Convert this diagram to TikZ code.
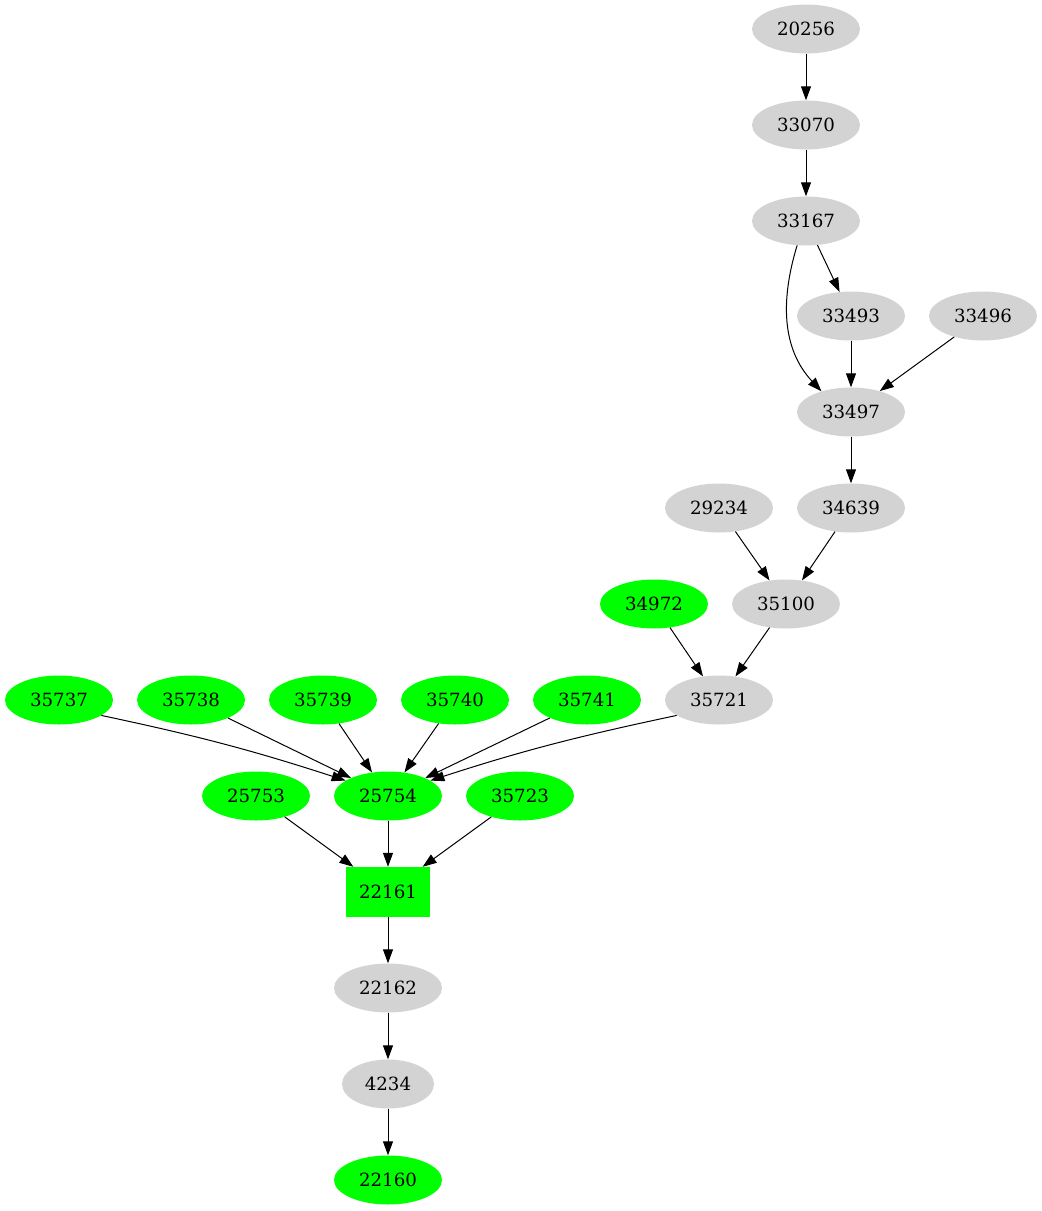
\documentclass[tikz,border=0pt]{standalone}
\usepackage{fontspec}
\setmainfont{DejaVu Serif}
\usetikzlibrary{shapes.geometric,arrows.meta}
\definecolor{gv}{HTML}{D3D3D3}
\definecolor{gn}{HTML}{00FF00}
\begin{document}
\begin{tikzpicture}[x=1pt,y=-1pt,
  base/.style={ellipse,minimum width=108pt,minimum height=49pt,inner sep=0pt,font=\fontsize{18.2}{20}\selectfont},
  gnode/.style={base,fill=gv},
  hnode/.style={base,fill=gn},
  edge/.style={draw=black,line width=1pt,-{Triangle[length=14pt,width=10pt]}}]
\useasboundingbox (0,0) rectangle (1042,1211);
\node[gnode] (n20256) at (806,29) {20256};
\node[gnode] (n33070) at (806,125) {33070};
\node[gnode] (n33167) at (806,221) {33167};
\node[gnode] (n33493) at (851,316) {33493};
\node[gnode] (n33496) at (983,316) {33496};
\node[gnode] (n33497) at (851,412) {33497};
\node[gnode] (n29234) at (719,508) {29234};
\node[gnode] (n34639) at (851,508) {34639};
\node[hnode] (n34972) at (654,604) {34972};
\node[gnode] (n35100) at (786,604) {35100};
\node[hnode] (n35737) at (59,700) {35737};
\node[hnode] (n35738) at (191,700) {35738};
\node[hnode] (n35739) at (323,700) {35739};
\node[hnode] (n35740) at (455,700) {35740};
\node[hnode] (n35741) at (587,700) {35741};
\node[gnode] (n35721) at (719,700) {35721};
\node[hnode] (n25753) at (256,796) {25753};
\node[hnode] (n25754) at (388,796) {25754};
\node[hnode] (n35723) at (520,796) {35723};
\node[rectangle,fill=gn,minimum width=84pt,minimum height=50pt,inner sep=0pt,font=\fontsize{18.2}{20}\selectfont] (n22161) at (388,892) {22161};
\node[gnode] (n22162) at (388,988) {22162};
\node[gnode,minimum width=92pt] (n4234) at (388,1084) {4234};
\node[hnode] (n22160) at (388,1180) {22160};

\draw[edge] (n20256) -- (n33070);
\draw[edge] (n33070) -- (n33167);
\draw[edge] (n33167) -- (n33493);
\draw[edge] (n33167.250) to[out=-107,in=133,looseness=1.0] (n33497.145);
\draw[edge] (n33493) -- (n33497);
\draw[edge] (n33496) -- (n33497);
\draw[edge] (n33497) -- (n34639);
\draw[edge] (n29234) -- (n35100);
\draw[edge] (n34639) -- (n35100);
\draw[edge] (n34972) -- (n35721);
\draw[edge] (n35100) -- (n35721);
\draw[edge] (n35737.-20) to[out=-12,in=162] (n25754.160);
\draw[edge] (n35738) -- (n25754);
\draw[edge] (n35739) -- (n25754);
\draw[edge] (n35740) -- (n25754);
\draw[edge] (n35741) -- (n25754);
\draw[edge] (n35721.-160) to[out=-168,in=18] (n25754.20);
\draw[edge] (n25753) -- (n22161);
\draw[edge] (n25754) -- (n22161);
\draw[edge] (n35723) -- (n22161);
\draw[edge] (n22161) -- (n22162);
\draw[edge] (n22162) -- (n4234);
\draw[edge] (n4234) -- (n22160);
\end{tikzpicture}
\end{document}
